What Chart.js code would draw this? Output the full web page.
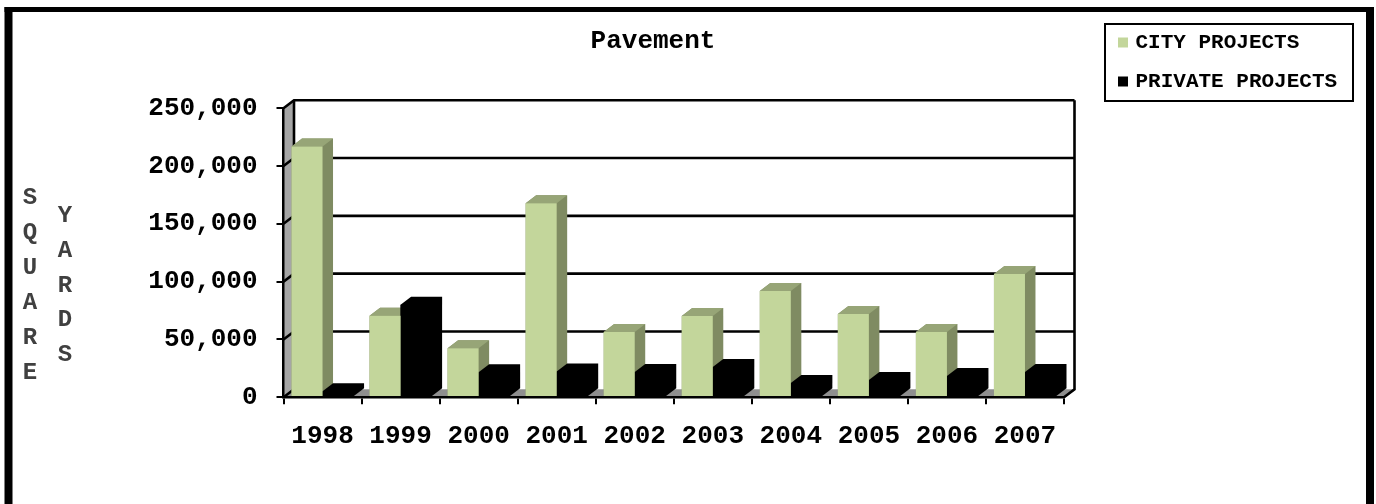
<!DOCTYPE html>
<html><head><meta charset="utf-8">
<style>html,body{margin:0;padding:0;background:#fff}canvas{display:block}</style>
<script src="https://cdn.jsdelivr.net/npm/chart.js@4"></script></head>
<body><canvas id="c" width="1376" height="504"></canvas>
<script>
const categories = ['1998','1999','2000','2001','2002','2003','2004','2005','2006','2007'];
const cityProjects = [216800,70600,42400,167800,56500,70300,92000,72000,56500,106700];
const privateProjects = [5200,80100,21600,22300,21900,26200,12400,15000,18400,21900];
const yTicks = [0,50000,100000,150000,200000,250000];
const titleText = 'Pavement';
const yWord1 = ['S','Q','U','A','R','E'];
const yWord2 = ['Y','A','R','D','S'];
const FONT = '"Liberation Mono","Courier New",monospace';
const DX = 10.5, DY = 8;

const scene = {
  id:'scene',
  beforeLayout(chart){
    const l = chart.legend;
    if (l && !l._w){ l._w = true; const f = l.fit; l.fit = function(){ f.call(this); this.width = 248; }; }
  },
  afterLayout(chart){
    const l = chart.legend;
    l.left = 1103; l.right = 1353; l.top = 14; l.bottom = 300; l.width = 250; l.height = 286;
    const t = chart.titleBlock;
    t.left = 553; t.right = 753; t.width = 200; t.top = 26; t.bottom = 58;
  },
  beforeDatasetsDraw(chart){
    const {ctx, chartArea:a, scales:{y}} = chart;
    ctx.save();
    // left wall and floor
    ctx.fillStyle = '#a6a6a6';
    ctx.beginPath(); ctx.moveTo(a.left,a.top); ctx.lineTo(a.left+DX,a.top-DY); ctx.lineTo(a.left+DX,a.bottom-DY); ctx.lineTo(a.left,a.bottom); ctx.closePath(); ctx.fill();
    ctx.fillStyle = '#8f8f8f';
    ctx.beginPath(); ctx.moveTo(a.left,a.bottom); ctx.lineTo(a.right,a.bottom); ctx.lineTo(a.right+DX,a.bottom-DY); ctx.lineTo(a.left+DX,a.bottom-DY); ctx.closePath(); ctx.fill();
    // back wall grid
    ctx.strokeStyle = '#000'; ctx.lineWidth = 2.6; ctx.lineCap='butt';
    y.ticks.forEach(t=>{
      const p = y.getPixelForValue(t.value);
      ctx.beginPath(); ctx.moveTo(a.left,p); ctx.lineTo(a.left+DX,p-DY);
      if (t.value>0) ctx.lineTo(a.right+DX,p-DY);
      ctx.stroke();
    });
    ctx.beginPath(); ctx.moveTo(a.left+DX,a.top-DY); ctx.lineTo(a.left+DX,a.bottom-DY); ctx.stroke();
    ctx.beginPath(); ctx.moveTo(a.right+DX,a.top-DY); ctx.lineTo(a.right+DX,a.bottom-DY); ctx.lineTo(a.right,a.bottom); ctx.stroke();
    // bar depth: whole silhouette in the side colour, then the top face
    const shades = [{side:'#7f8b62',top:'#97a577'},{side:'#000',top:'#000'}];
    categories.forEach((_,i)=>{
      chart.data.datasets.forEach((d,k)=>{
        const b = chart.getDatasetMeta(k).data[i];
        const l = b.x-b.width/2, r = b.x+b.width/2;
        ctx.fillStyle = shades[k].side;
        ctx.beginPath(); ctx.moveTo(l,b.base); ctx.lineTo(l,b.y); ctx.lineTo(l+DX,b.y-DY); ctx.lineTo(r+DX,b.y-DY); ctx.lineTo(r+DX,b.base-DY); ctx.lineTo(r,b.base); ctx.closePath(); ctx.fill();
        if (k===0){
          ctx.fillStyle = shades[k].top;
          ctx.beginPath(); ctx.moveTo(l,b.y); ctx.lineTo(l+DX,b.y-DY); ctx.lineTo(r+DX,b.y-DY); ctx.lineTo(r,b.y); ctx.closePath(); ctx.fill();
        }
      });
    });
    ctx.restore();
  },
  afterDraw(chart){
    const {ctx} = chart;
    ctx.save();
    ctx.fillStyle = '#000';
    ctx.fillRect(4.5,7,1369.5,5);
    ctx.fillRect(4.5,7,8,497);
    ctx.fillRect(1366,7,8,497);
    ctx.strokeStyle = '#000';
    ctx.lineWidth = 2; ctx.strokeRect(1105,24,248,77);
    ctx.fillStyle = '#404040'; ctx.font = 'bold 24px '+FONT;
    ctx.textAlign='center'; ctx.textBaseline='middle';
    yWord1.forEach((c,i)=>ctx.fillText(c,30,198+i*35));
    yWord2.forEach((c,i)=>ctx.fillText(c,65,216+i*34.8));
    ctx.restore();
  }
};

new Chart(document.getElementById('c'),{
  type:'bar',
  data:{labels:categories,datasets:[
    {label:'CITY PROJECTS',data:cityProjects,backgroundColor:'#c3d69b',order:1},
    {label:'PRIVATE PROJECTS',data:privateProjects,backgroundColor:'#000000',order:2}
  ]},
  options:{
    responsive:false,animation:false,devicePixelRatio:1,
    layout:{padding:{left:0,right:64,top:77,bottom:0}},
    datasets:{bar:{barPercentage:1,categoryPercentage:0.795}},
    scales:{
      x:{
        grid:{drawOnChartArea:false,drawTicks:true,tickLength:7,color:'#000',lineWidth:2},
        border:{display:true,color:'#000',width:2.5,z:1},
        ticks:{color:'#000',padding:17,maxRotation:0,autoSkip:false,font:{family:FONT,size:26,weight:'bold'}},
        afterFit(s){s.height=106.7;}
      },
      y:{
        min:0,max:250000,
        afterBuildTicks(s){s.ticks=yTicks.map(v=>({value:v}));},
        grid:{drawOnChartArea:false,drawTicks:true,tickLength:7,color:'#000',lineWidth:2},
        border:{display:true,color:'#000',width:2.5,z:1},
        ticks:{color:'#000',padding:19,font:{family:FONT,size:26,weight:'bold'},callback:v=>v.toLocaleString('en-US')},
        afterFit(s){s.width=283.5;}
      }
    },
    plugins:{
      tooltip:{enabled:false},
      title:{display:true,text:titleText,color:'#000',padding:0,font:{family:FONT,size:26,weight:'bold',lineHeight:1.2}},
      legend:{display:true,position:'right',align:'start',
        labels:{color:'#000',boxWidth:4,boxHeight:4,padding:18,font:{family:FONT,size:21,weight:'bold'},
          generateLabels(chart){
            return Chart.defaults.plugins.legend.labels.generateLabels(chart).map(it=>Object.assign(it,{lineWidth:6,strokeStyle:it.fillStyle}));
          }}}
    }
  },
  plugins:[scene]
});
</script></body></html>
